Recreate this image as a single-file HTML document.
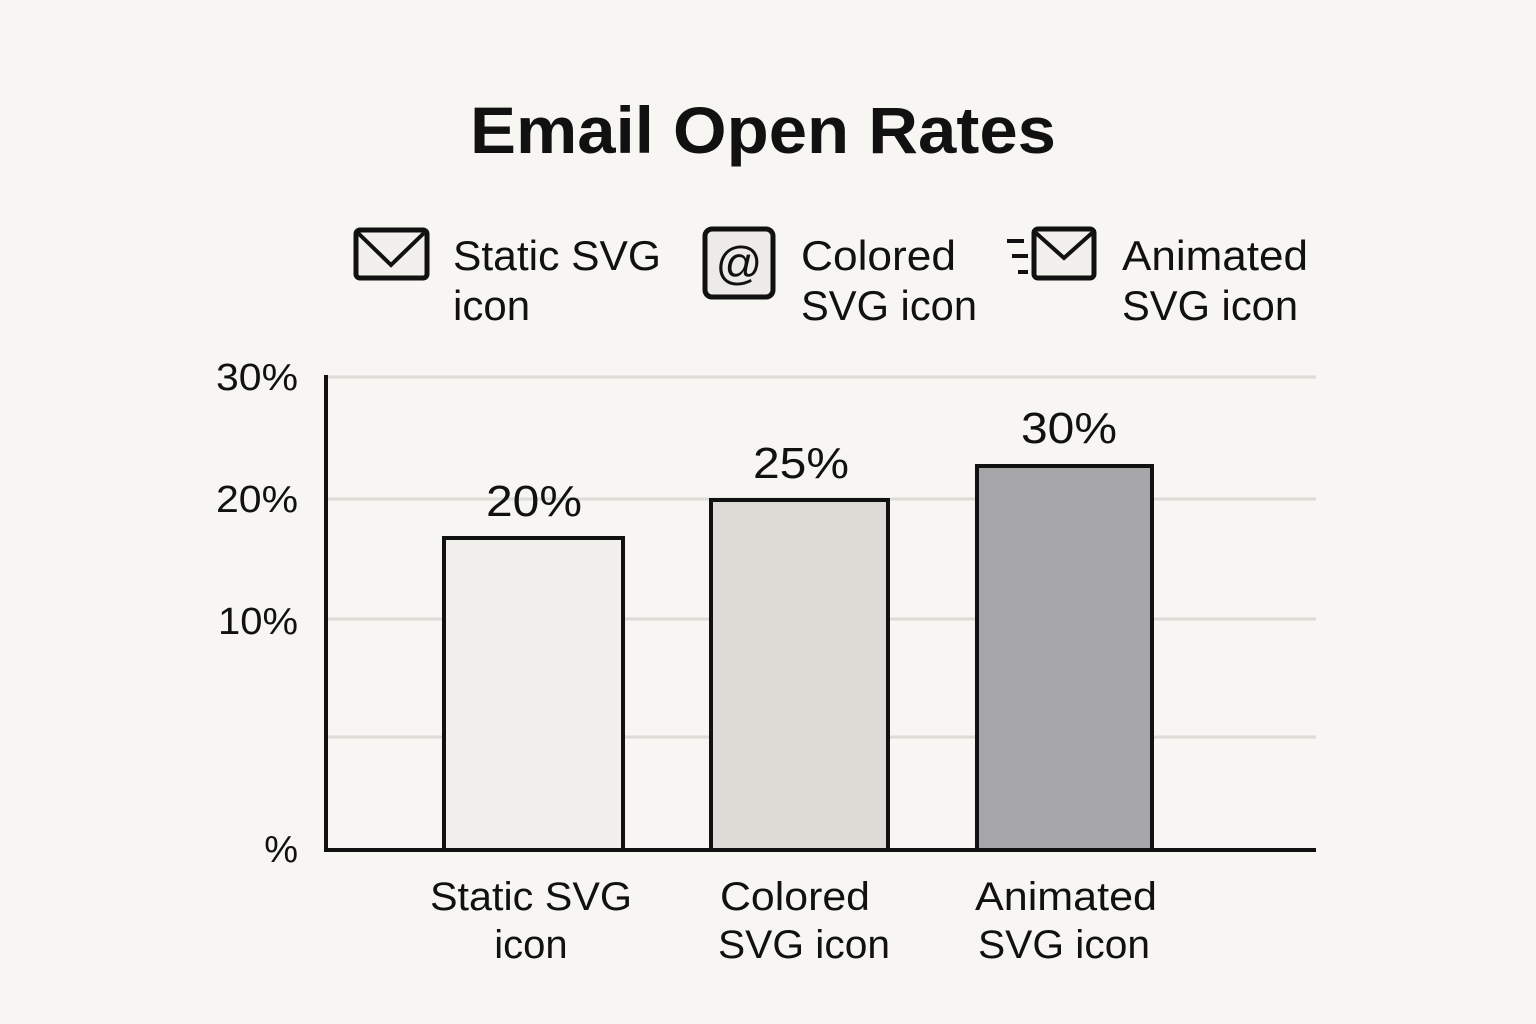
<!DOCTYPE html>
<html><head><meta charset="utf-8"><style>
html,body{margin:0;padding:0;background:#f7f6f2;}
svg{display:block;font-family:"Liberation Sans","DejaVu Sans",sans-serif;}
</style></head><body>
<svg width="1536" height="1024" viewBox="0 0 1536 1024" xmlns="http://www.w3.org/2000/svg">
<rect width="1536" height="1024" fill="#f7f6f2"/>
<text x="763" y="153" text-anchor="middle" font-size="66" font-weight="bold" fill="#111" textLength="586" lengthAdjust="spacingAndGlyphs">Email Open Rates</text>
<!-- legend -->
<rect x="356" y="230" width="71" height="48" rx="4" fill="#f1f0ec" stroke="#111" stroke-width="5"/>
<polyline points="358,233 391,265 424,233" fill="none" stroke="#111" stroke-width="4"/>
<text x="453" y="270" font-size="42" fill="#111" textLength="208" lengthAdjust="spacingAndGlyphs">Static SVG</text>
<text x="453" y="320" font-size="42" fill="#111">icon</text>
<rect x="705" y="229" width="68" height="68" rx="7" fill="#ecebe7" stroke="#111" stroke-width="5"/>
<text x="739" y="279" text-anchor="middle" font-size="46" fill="#111">@</text>
<text x="801" y="270" font-size="42" fill="#111" textLength="155" lengthAdjust="spacingAndGlyphs">Colored</text>
<text x="801" y="320" font-size="42" fill="#111" textLength="176" lengthAdjust="spacingAndGlyphs">SVG icon</text>
<rect x="1034" y="229" width="60" height="49" rx="4" fill="#f1f0ec" stroke="#111" stroke-width="5"/>
<polyline points="1036,233 1064,258 1092,233" fill="none" stroke="#111" stroke-width="4"/>
<line x1="1007" y1="241" x2="1024" y2="241" stroke="#111" stroke-width="4"/>
<line x1="1012" y1="256" x2="1028" y2="256" stroke="#111" stroke-width="4"/>
<line x1="1018" y1="272" x2="1028" y2="272" stroke="#111" stroke-width="4"/>
<text x="1122" y="270" font-size="42" fill="#111" textLength="186" lengthAdjust="spacingAndGlyphs">Animated</text>
<text x="1122" y="320" font-size="42" fill="#111" textLength="176" lengthAdjust="spacingAndGlyphs">SVG icon</text>
<!-- grid -->
<g stroke="#dcdbd6" stroke-width="3">
<line x1="327" y1="377" x2="1316" y2="377"/>
<line x1="327" y1="499" x2="1316" y2="499"/>
<line x1="327" y1="619" x2="1316" y2="619"/>
<line x1="327" y1="737" x2="1316" y2="737"/>
</g>
<g font-size="38" fill="#111" text-anchor="end">
<text x="298" y="390" textLength="82" lengthAdjust="spacingAndGlyphs">30%</text>
<text x="298" y="512" textLength="82" lengthAdjust="spacingAndGlyphs">20%</text>
<text x="298" y="634" textLength="80" lengthAdjust="spacingAndGlyphs">10%</text>
<text x="298" y="862">%</text>
</g>
<!-- bars -->
<rect x="444" y="538" width="179" height="312" fill="#f1f0ec" stroke="#111" stroke-width="4"/>
<rect x="711" y="500" width="177" height="350" fill="#dddbd6" stroke="#111" stroke-width="4"/>
<rect x="977" y="466" width="175" height="384" fill="#a6a6a8" stroke="#111" stroke-width="4"/>
<g font-size="44" fill="#111" text-anchor="middle">
<text x="534" y="516" textLength="96" lengthAdjust="spacingAndGlyphs">20%</text>
<text x="801" y="478" textLength="96" lengthAdjust="spacingAndGlyphs">25%</text>
<text x="1069" y="443" textLength="96" lengthAdjust="spacingAndGlyphs">30%</text>
</g>
<!-- axes -->
<line x1="326" y1="375" x2="326" y2="852" stroke="#111" stroke-width="4"/>
<line x1="324" y1="850" x2="1316" y2="850" stroke="#111" stroke-width="4"/>
<g font-size="40" fill="#111" text-anchor="middle">
<text x="531" y="910" textLength="202" lengthAdjust="spacingAndGlyphs">Static SVG</text>
<text x="531" y="958">icon</text>
<text x="795" y="910" textLength="150" lengthAdjust="spacingAndGlyphs">Colored</text>
<text x="804" y="958" textLength="172" lengthAdjust="spacingAndGlyphs">SVG icon</text>
<text x="1066" y="910" textLength="182" lengthAdjust="spacingAndGlyphs">Animated</text>
<text x="1064" y="958" textLength="172" lengthAdjust="spacingAndGlyphs">SVG icon</text>
</g>
</svg>
</body></html>
